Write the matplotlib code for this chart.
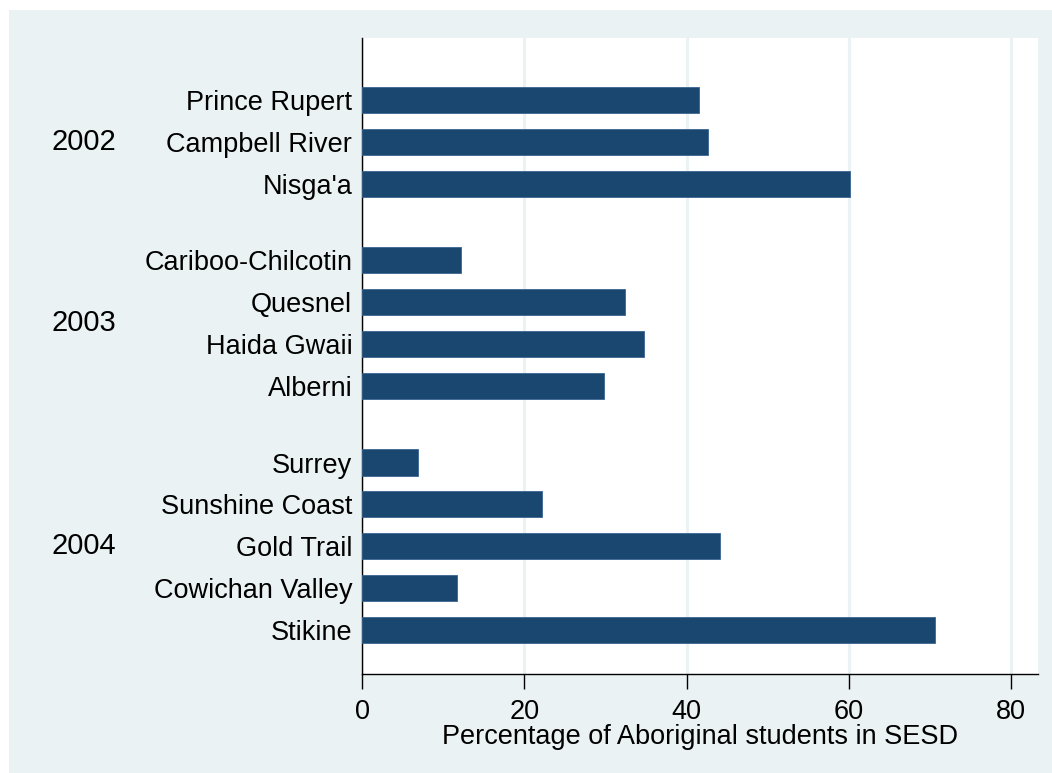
"""Horizontal bars: share of Aboriginal students in SESD, grouped by year."""
import matplotlib.pyplot as plt
from matplotlib.patches import Rectangle
from matplotlib.transforms import blended_transform_factory

BACKGROUND = "#eaf2f3"
BAR_COLOR = "#1a476f"
INK = "#000000"

years = ["2002", "2003", "2004"]
districts = [
    ["Prince Rupert", "Campbell River", "Nisga'a"],
    ["Cariboo-Chilcotin", "Quesnel", "Haida Gwaii", "Alberni"],
    ["Surrey", "Sunshine Coast", "Gold Trail", "Cowichan Valley", "Stikine"],
]
pct = [
    [41.5, 42.6, 60.1],
    [12.2, 32.4, 34.7, 29.8],
    [6.9, 22.2, 44.1, 11.7, 70.6],
]
xticks = [0, 20, 40, 60, 80]

GROUP_GAP = 0.82
FS = 19.5

plt.rcParams["font.family"] = ["Liberation Sans", "DejaVu Sans"]

fig = plt.figure(figsize=(10.52, 7.73), dpi=100, facecolor="white")
fig.patches.append(Rectangle((9 / 1052, 0), 1, 1 - 10 / 773, transform=fig.transFigure,
                             facecolor=BACKGROUND, edgecolor="none", zorder=-10))
ax = fig.add_axes([362 / 1052, 1 - 674 / 773, 676 / 1052, 636 / 773])
ax.set_zorder(1)
ax.set_facecolor("white")

positions, labels, values, centers = [], [], [], []
pos = 0.0
for names, vals in zip(districts, pct):
    group = []
    for name, v in zip(names, vals):
        positions.append(pos)
        labels.append(name)
        values.append(v)
        group.append(pos)
        pos += 1
    centers.append(sum(group) / len(group))
    pos += GROUP_GAP

ax.barh(positions, values, height=0.62, color=BAR_COLOR, edgecolor="#3a6590",
        linewidth=0.6, zorder=3)

ax.set_ylim(positions[-1] + 1.04, -1.476)
ax.set_xlim(0, 83.3)
ax.set_yticks(positions)
ax.set_yticklabels(labels, fontsize=FS, color=INK)
ax.tick_params(axis="y", length=0, pad=7)
ax.set_xticks(xticks)
ax.tick_params(axis="x", length=11, width=1, pad=7, labelsize=FS, colors=INK)

ax.grid(axis="x", color=BACKGROUND, linewidth=2.2, zorder=1)
for side in ("top", "right"):
    ax.spines[side].set_visible(False)
for side in ("left", "bottom"):
    ax.spines[side].set_color(INK)
    ax.spines[side].set_linewidth(1.0)

ax.set_xlabel("Percentage of Aboriginal students in SESD", fontsize=FS,
              color=INK, labelpad=-1)

trans = blended_transform_factory(fig.transFigure, ax.transData)
for year, c in zip(years, centers):
    ax.text(84 / 1052, c, year, transform=trans, ha="center", va="center",
            fontsize=21, color=INK)

fig.savefig("out.png", dpi=100, facecolor="white")
